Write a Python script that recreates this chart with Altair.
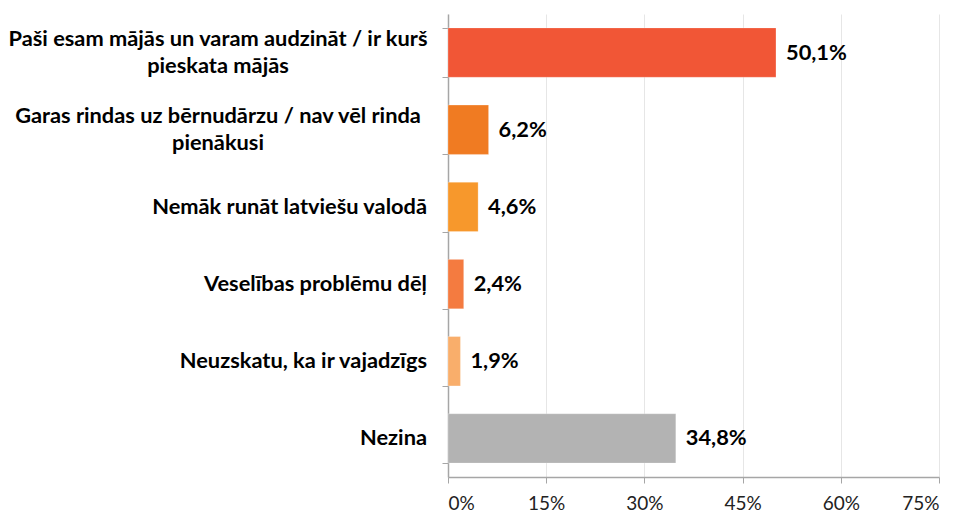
import altair as alt
import pandas as pd

categories = [
    "Paši esam mājās un varam audzināt / ir kurš pieskata mājās",
    "Garas rindas uz bērnudārzu / nav vēl rinda pienākusi",
    "Nemāk runāt latviešu valodā",
    "Veselības problēmu dēļ",
    "Neuzskatu, ka ir vajadzīgs",
    "Nezina",
]
label_lines = [
    ["Paši esam mājās un varam audzināt / ir kurš", "pieskata mājās"],
    ["Garas rindas uz bērnudārzu / nav vēl rinda", "pienākusi"],
    ["Nemāk runāt latviešu valodā"],
    ["Veselības problēmu dēļ"],
    ["Neuzskatu, ka ir vajadzīgs"],
    ["Nezina"],
]
values = [50.1, 6.2, 4.6, 2.4, 1.9, 34.8]
colors = ["#F15636", "#F07B22", "#F7982C", "#F47B40", "#F9AE6B", "#B3B3B3"]
x_ticks = [0, 15, 30, 45, 60, 75]

df = pd.DataFrame({
    "cat": categories,
    "lines": label_lines,
    "nlines": [len(l) for l in label_lines],
    "value": values,
    "color": colors,
    "label": [f"{v:.1f}".replace(".", ",") + "%" for v in values],
})

FONT = "Lato"
FS = 21.8

y = alt.Y("cat:N", sort=categories, title=None,
          scale=alt.Scale(paddingInner=0.36, paddingOuter=0.18),
          axis=alt.Axis(labels=False, domainColor="#a6a6a6", tickColor="#a6a6a6",
                        tickSize=6, tickBand="extent", grid=False, domainWidth=1.5))

base = alt.Chart(df)

bars = base.mark_bar(stroke="#ffffff", strokeOpacity=0.25, strokeWidth=1).encode(
    x=alt.X("value:Q", title=None,
            scale=alt.Scale(domain=[0, 75], nice=False, zero=True),
            axis=alt.Axis(values=x_ticks, labelExpr="datum.value + '%'",
                          gridColor="#e6e6e6", domainColor="#a6a6a6", tickColor="#a6a6a6",
                          tickSize=6, labelFont=FONT, labelFontSize=19, labelColor="#222222",
                          labelPadding=11, domainWidth=1.5)),
    y=y,
    color=alt.Color("color:N", scale=None, legend=None),
)

vals = base.mark_text(align="left", baseline="middle", dx=10, font=FONT,
                      fontSize=FS, fontWeight="bold", color="#000000").encode(
    x="value:Q", y=alt.Y("cat:N", sort=categories), text="label:N")

multi = base.transform_filter("datum.nlines > 1").mark_text(
    align="center", baseline="middle", font=FONT, fontSize=FS, fontWeight="bold",
    color="#000000", lineHeight=27, dy=-13.5).encode(
    x=alt.value(-230), y=alt.Y("cat:N", sort=categories), text="lines")

single = base.transform_filter("datum.nlines == 1").mark_text(
    align="right", baseline="middle", font=FONT, fontSize=FS, fontWeight="bold",
    color="#000000").encode(
    x=alt.value(-21), y=alt.Y("cat:N", sort=categories), text="lines")

chart = alt.layer(bars, vals, multi, single).properties(
    width=491, height=463,
    padding={"left": 0, "top": 6, "right": 5, "bottom": 0},
).configure_view(stroke=None)

chart.save("out.html", embed_options={"renderer": "svg", "actions": False})
